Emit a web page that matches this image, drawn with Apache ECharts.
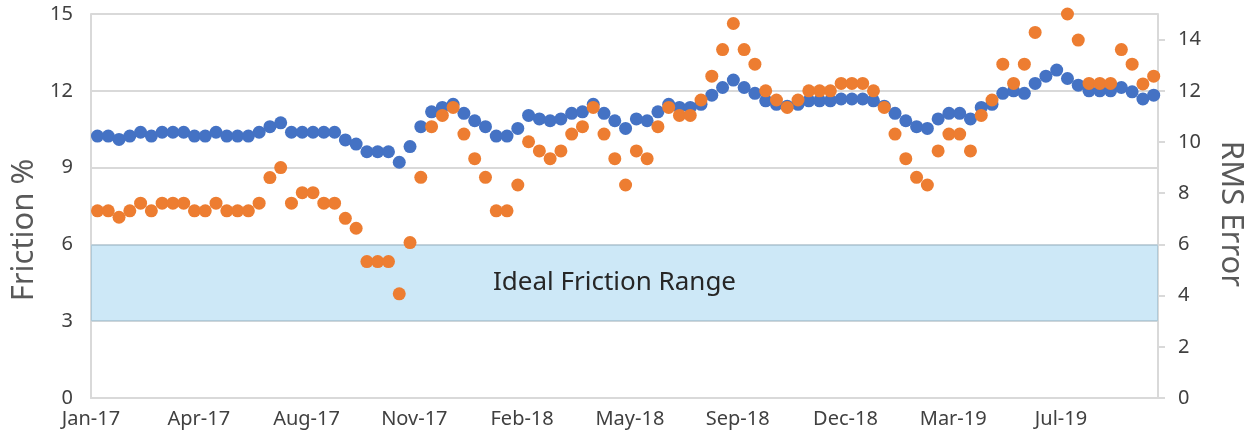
<!DOCTYPE html>
<html>
<head>
<meta charset="utf-8">
<script src="https://cdn.jsdelivr.net/npm/echarts@6/dist/echarts.min.js"></script>
<style>
html,body{margin:0;padding:0;background:#ffffff;}
#chart{width:1254px;height:437px;}
</style>
</head>
<body>
<div id="chart"></div>
<script>
// ---- data ----
const xTickLabels = ['Jan-17','Apr-17','Aug-17','Nov-17','Feb-18','May-18','Sep-18','Dec-18','Mar-19','Jul-19'];
const xTickDays = [0,100,200,300,400,500,600,700,800,900];   // days from axis start (≈15 Jan 2017)
const axisSpanDays = 990;
const firstSampleDay = 6;      // first sample, days after axis start
const sampleStepDays = 10;     // samples every 10 days

const friction = [
  10.23,10.23,10.10,10.23,10.38,10.23,10.38,10.38,10.38,10.23,
  10.23,10.38,10.23,10.23,10.23,10.38,10.60,10.75,10.38,10.38,
  10.38,10.38,10.38,10.08,9.92,9.62,9.62,9.62,9.21,9.82,
  10.60,11.18,11.35,11.47,11.12,10.83,10.60,10.23,10.23,10.53,
  11.04,10.90,10.83,10.90,11.12,11.18,11.47,11.12,10.83,10.53,
  10.90,10.83,11.18,11.47,11.35,11.35,11.47,11.83,12.13,12.42,
  12.13,11.90,11.61,11.47,11.40,11.47,11.61,11.61,11.61,11.68,
  11.68,11.68,11.61,11.40,11.12,10.83,10.60,10.53,10.90,11.12,
  11.12,10.90,11.35,11.47,11.90,12.00,11.90,12.29,12.57,12.81,
  12.48,12.22,12.00,12.00,12.00,12.13,11.96,11.68,11.83
];
const rmsError = [
  7.31,7.31,7.06,7.31,7.61,7.31,7.61,7.61,7.61,7.31,
  7.31,7.61,7.31,7.31,7.31,7.61,8.61,9.00,7.61,8.02,
  8.02,7.61,7.61,7.02,6.63,5.33,5.33,5.33,4.07,6.07,
  8.62,10.60,11.04,11.35,10.31,9.35,8.62,7.31,7.31,8.32,
  10.01,9.65,9.35,9.65,10.31,10.60,11.35,10.31,9.35,8.32,
  9.65,9.35,10.60,11.35,11.04,11.04,11.64,12.57,13.61,14.63,
  13.61,13.04,12.00,11.64,11.35,11.64,12.00,12.00,12.00,12.29,
  12.29,12.29,12.00,11.35,10.31,9.35,8.62,8.32,9.65,10.31,
  10.31,9.65,11.04,11.64,13.04,12.29,13.04,14.28,null,null,
  15.00,13.98,12.29,12.29,12.29,13.61,13.04,12.27,12.57
];
const leftTicks = [0,3,6,9,12,15];
const rightTicks = [0,2,4,6,8,10,12,14];
const idealRange = [3,6];
const idealLabel = 'Ideal Friction Range';

// ---- build ----
const frictionPts = friction.map((v,i)=>[firstSampleDay + i*sampleStepDays, v]);
const rmsPts = rmsError.map((v,i)=>[firstSampleDay + i*sampleStepDays, v]);

const FONT = "'Noto Sans', 'DejaVu Sans', sans-serif";
const LINE = '#d9d9d9';
const TXT = '#404040';

const chart = echarts.init(document.getElementById('chart'), null, {renderer:'canvas'});
chart.setOption({
  animation:false,
  backgroundColor:'#ffffff',
  grid:{left:91,right:93,top:14,bottom:39,containLabel:false},
  xAxis:{
    type:'value', min:0, max:axisSpanDays, interval:100,
    axisLine:{show:true,lineStyle:{color:LINE,width:2}},
    axisTick:{show:false},
    splitLine:{show:false},
    axisLabel:{
      customValues:xTickDays,
      margin:11, color:TXT, fontSize:20, fontFamily:FONT,
      formatter:(v)=>{const k=xTickDays.indexOf(Math.round(v));return k>=0?xTickLabels[k]:'';}
    }
  },
  yAxis:[
    {
      type:'value', min:0, max:15, interval:3, position:'left',
      name:'Friction %', nameLocation:'middle', nameRotate:90, nameGap:44,
      nameTextStyle:{fontSize:31,color:'#595959',fontFamily:FONT,padding:[0,0,0,-48]},
      axisLine:{show:true,lineStyle:{color:LINE,width:2}},
      axisTick:{show:false},
      splitLine:{show:true,lineStyle:{color:LINE,width:2}},
      axisLabel:{customValues:leftTicks,margin:18,color:TXT,fontSize:20,fontFamily:FONT}
    },
    {
      type:'value', min:0, max:15, interval:2, position:'right',
      name:'RMS Error', nameLocation:'middle', nameRotate:-90, nameGap:57,
      nameTextStyle:{fontSize:31,color:'#595959',fontFamily:FONT,padding:[0,0,0,16]},
      axisLine:{show:true,lineStyle:{color:LINE,width:2}},
      axisTick:{show:true,length:7,customValues:rightTicks,lineStyle:{color:LINE,width:2}},
      splitLine:{show:false},
      axisLabel:{customValues:rightTicks,margin:20,color:TXT,fontSize:20,fontFamily:FONT}
    }
  ],
  series:[
    {
      name:'Friction %', type:'scatter', yAxisIndex:0, data:frictionPts,
      symbol:'circle', symbolSize:13, itemStyle:{color:'#4472C4',opacity:1}, z:2
    },
    {
      name:'RMS Error', type:'scatter', yAxisIndex:1, data:rmsPts,
      symbol:'circle', symbolSize:13, itemStyle:{color:'#ED7D31',opacity:1}, z:3
    },
    {
      name:'Ideal', type:'line', yAxisIndex:0, data:[], zlevel:1, z:10, silent:true,
      markArea:{
        silent:true,
        itemStyle:{color:'rgba(28,150,220,0.22)'},
        label:{show:true,position:'inside',offset:[-10,0],formatter:idealLabel,
               fontSize:26,color:'#262626',fontFamily:FONT},
        data:[[{yAxis:idealRange[0]},{yAxis:idealRange[1]}]]
      }
    }
  ]
});
</script>
</body>
</html>
